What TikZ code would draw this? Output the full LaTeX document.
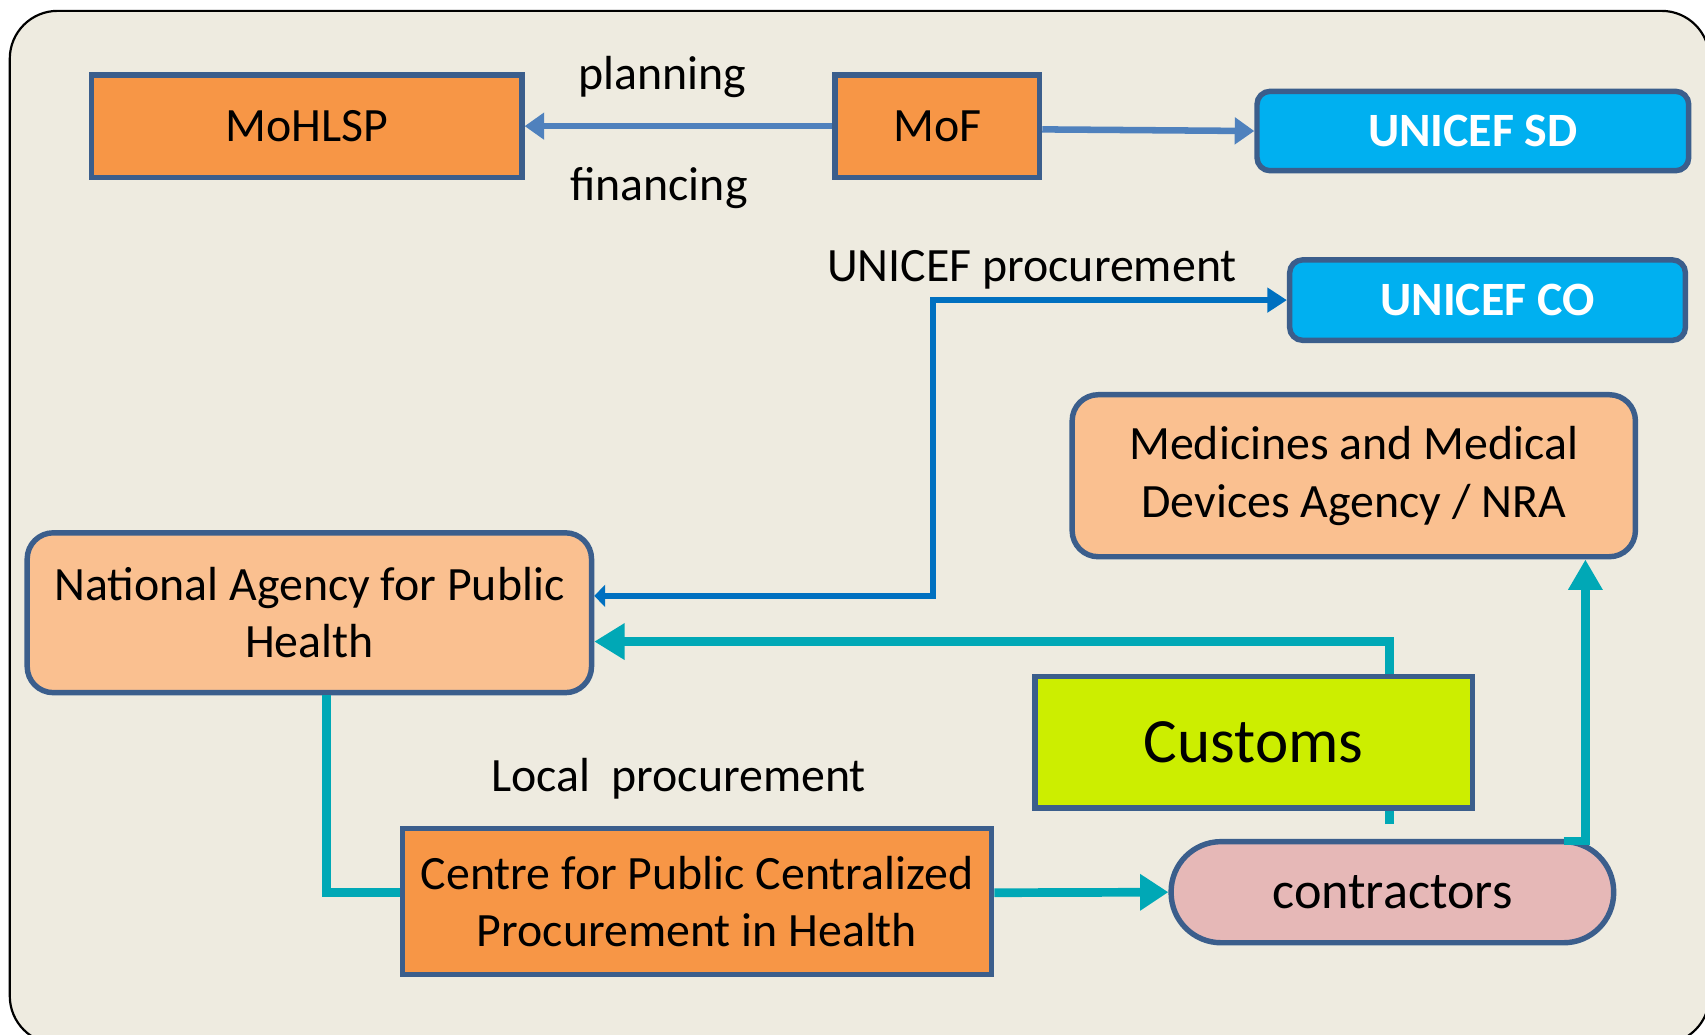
\documentclass[tikz,border=0pt]{standalone}
\usepackage{fontspec}
\setmainfont{Carlito}
\usetikzlibrary{arrows.meta}
\definecolor{fond}{HTML}{EEEBE0}
\definecolor{bord}{HTML}{3B5E8C}
\definecolor{orangefonce}{HTML}{F79646}
\definecolor{orangeclair}{HTML}{FAC090}
\definecolor{bleuciel}{HTML}{00B0F0}
\definecolor{citron}{HTML}{CCEE00}
\definecolor{rose}{HTML}{E6B8B7}
\definecolor{turquoise}{HTML}{00A8B6}
\definecolor{bleufonce}{HTML}{0070C0}
\definecolor{acier}{HTML}{4F81BD}
\begin{document}
\begin{tikzpicture}[x=0.5pt,y=-0.5pt]
\tikzset{boite/.style={draw=bord, line width=2.5pt, inner sep=0pt, align=center, font=\fontsize{22}{26.5}\selectfont},
ministere/.style={boite, fill=orangefonce},
unicef/.style={boite, fill=bleuciel, rounded corners=6pt, text=white, font=\fontsize{22}{26.5}\selectfont\bfseries},
agence/.style={boite, fill=orangeclair, rounded corners=12pt},
etiquette/.style={font=\fontsize{22}{26.5}\selectfont},
fleche/.style={line width=3pt, draw=acier, -{Triangle[length=9pt,width=12pt]}},
filbleu/.style={line width=2.5pt, draw=bleufonce},
filturq/.style={line width=4pt, draw=turquoise}}
\useasboundingbox (0,0) rectangle (1568,951);
\clip (0,0) rectangle (1568,951);
\draw[fill=fond, line width=1pt, rounded corners=22pt] (9,10) rectangle (1572,960);
\node[ministere, minimum width=198pt, minimum height=47pt] (MoHLSP) at (282,116) {MoHLSP};
\node[ministere, minimum width=94pt, minimum height=47pt] (MoF) at (862,116) {MoF};
\node[unicef, minimum width=198.5pt, minimum height=36.5pt] (SD) at (1354.5,120.5) {UNICEF SD};
\node[unicef, minimum width=182pt, minimum height=37pt] (CO) at (1368,276) {UNICEF CO};
\node[agence, minimum width=259pt, minimum height=74.5pt] (NRA) at (1245,437.5) {Medicines and Medical\\Devices Agency / NRA};
\node[agence, minimum width=259.5pt, minimum height=73.5pt] (ANSP) at (284.5,563.5) {National Agency for Public\\Health};
\node[ministere, minimum width=271pt, minimum height=67pt] (CAPCS) at (641,829) {Centre for Public Centralized\\Procurement in Health};
\node[boite, fill=rose, rounded corners=23pt, minimum width=203.5pt, minimum height=46.5pt, font=\fontsize{24}{28}\selectfont] (contr) at (1280.5,820.5) {contractors};
\node[etiquette] (planif) at (609,71) {planning};
\node[etiquette] (financ) at (606,173) {financing};
\node[etiquette] (procu) at (949,248) {UNICEF procurement};
\node[etiquette] (local) at (624,716) {Local\ \ procurement};
\coordinate (coude) at (858,276);
\coordinate (douane) at (1278,758);
\draw[fleche] (MoF.west) -- (MoHLSP.east);
\draw[fleche] ([yshift=-1.5pt]MoF.east) -- (SD.west);
\draw[filbleu, {Triangle[length=5pt,width=10pt]}-{Triangle[length=9pt,width=11pt]}] ([yshift=7.75pt]ANSP.east) -| (coude) -- (CO.west);
\draw[filturq, -{Triangle[length=14pt,width=16pt]}] (douane) |- ([yshift=-13.25pt]ANSP.east);
\draw[filturq] ([xshift=7.75pt]ANSP.south) |- ([yshift=4pt]CAPCS.west);
\draw[filturq, -{Triangle[length=13pt,width=16pt]}] ([yshift=4pt]CAPCS.east) -- (contr.west);
\draw[filturq, -{Triangle[length=14pt,width=15pt]}] ([xshift=78.75pt,yshift=-1pt]contr.north) -| ([xshift=106.5pt]NRA.south);
\node[boite, fill=citron, minimum width=201pt, minimum height=60.5pt, font=\fontsize{29}{34}\selectfont] (douanes) at (1153,682.5) {Customs};
\end{tikzpicture}
\end{document}
